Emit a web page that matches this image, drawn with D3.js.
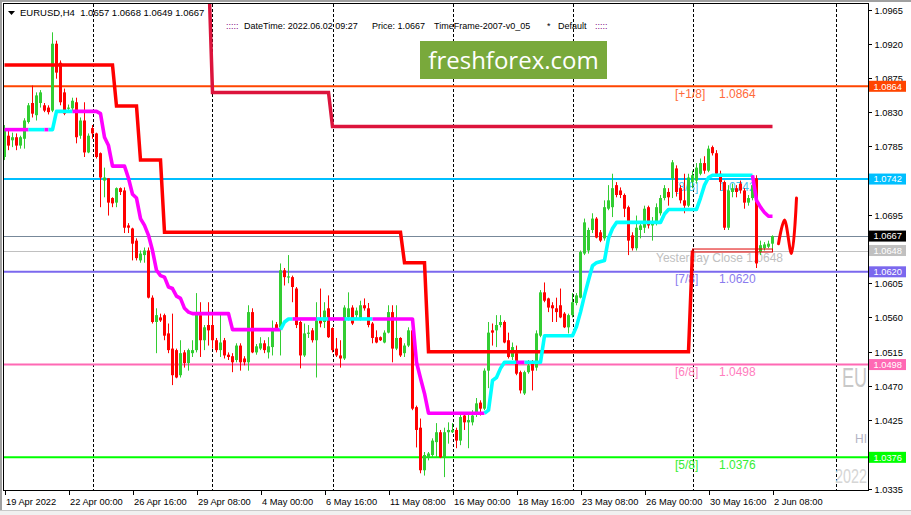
<!DOCTYPE html>
<html><head><meta charset="utf-8">
<script src="https://cdn.jsdelivr.net/npm/d3@7/dist/d3.min.js"></script>
<style>
body{margin:0;background:#fff;overflow:hidden}
text{font-family:"Liberation Sans",Arial,sans-serif;white-space:pre}
</style>
</head><body>
<svg id="c" width="911" height="515"></svg>
<script>
// ---------------- DATA ----------------
const symbol = "EURUSD,H4";
const lastOHLC = [1.0657, 1.0668, 1.0649, 1.0667];
const openP = [1.0771,1.0799,1.0793,1.0797,1.0786,1.0795,1.0817,1.0842,1.0826,1.0842,
 1.0839,1.0836,1.0832,1.0920,1.0895,1.0856,1.0835,1.0835,1.0843,1.0799,
 1.0819,1.0777,1.0809,1.0802,1.0776,1.0740,1.0743,1.0717,1.0711,1.0730,
 1.0727,1.0681,1.0677,1.0661,1.0635,1.0642,1.0648,1.0586,1.0554,1.0560,
 1.0563,1.0539,1.0519,1.0517,1.0484,1.0514,1.0500,1.0513,1.0517,1.0563,
 1.0530,1.0550,1.0550,1.0530,1.0517,1.0530,1.0511,1.0509,1.0504,1.0523,
 1.0506,1.0501,1.0567,1.0514,1.0519,1.0526,1.0514,1.0521,1.0551,1.0547,
 1.0622,1.0613,1.0613,1.0598,1.0554,1.0510,1.0539,1.0543,1.0530,1.0556,
 1.0554,1.0572,1.0546,1.0519,1.0510,1.0506,1.0560,1.0573,1.0563,1.0559,
 1.0576,1.0572,1.0552,1.0534,1.0534,1.0527,1.0540,1.0567,1.0519,1.0533,
 1.0513,1.0523,1.0543,1.0442,1.0415,1.0359,1.0376,1.0379,1.0396,1.0409,
 1.0376,1.0409,1.0409,1.0412,1.0398,1.0431,1.0422,1.0422,1.0434,1.0448,
 1.0440,1.0490,1.0543,1.0543,1.0550,1.0554,1.0530,1.0508,1.0513,1.0488,
 1.0460,1.0488,1.0501,1.0494,1.0536,1.0593,1.0585,1.0576,1.0572,1.0576,
 1.0565,1.0547,1.0563,1.0579,1.0586,1.0644,1.0648,1.0675,1.0690,1.0672,
 1.0664,1.0703,1.0705,1.0734,1.0727,1.0721,1.0705,1.0668,1.0651,1.0675,
 1.0678,1.0705,1.0681,1.0684,1.0697,1.0717,1.0725,1.0743,1.0756,1.0730,
 1.0714,1.0707,1.0738,1.0740,1.0749,1.0763,1.0753,1.0784,1.0776,1.0749,
 1.0738,1.0678,1.0725,1.0730,1.0736,1.0727,1.0711,1.0717,1.0743,1.0646,
 1.0651,1.0653,1.0657];
const highP = [1.0813,1.0806,1.0803,1.0802,1.0799,1.0822,1.0842,1.0865,1.0856,1.0859,
 1.0842,1.0839,1.0935,1.0924,1.0898,1.0861,1.0840,1.0849,1.0849,1.0823,
 1.0843,1.0802,1.0813,1.0803,1.0777,1.0757,1.0743,1.0718,1.0731,1.0731,
 1.0731,1.0684,1.0678,1.0664,1.0648,1.0652,1.0652,1.0589,1.0572,1.0565,
 1.0565,1.0552,1.0565,1.0519,1.0530,1.0517,1.0519,1.0530,1.0592,1.0580,
 1.0550,1.0580,1.0565,1.0533,1.0567,1.0533,1.0514,1.0513,1.0526,1.0526,
 1.0509,1.0576,1.0572,1.0525,1.0534,1.0530,1.0534,1.0556,1.0554,1.0631,
 1.0625,1.0642,1.0615,1.0600,1.0556,1.0552,1.0550,1.0546,1.0580,1.0598,
 1.0580,1.0589,1.0547,1.0533,1.0530,1.0576,1.0593,1.0576,1.0573,1.0582,
 1.0585,1.0579,1.0554,1.0543,1.0535,1.0543,1.0576,1.0576,1.0576,1.0534,
 1.0526,1.0547,1.0550,1.0444,1.0427,1.0383,1.0383,1.0401,1.0421,1.0412,
 1.0415,1.0422,1.0421,1.0415,1.0434,1.0434,1.0434,1.0438,1.0454,1.0451,
 1.0493,1.0554,1.0552,1.0563,1.0563,1.0556,1.0540,1.0527,1.0523,1.0490,
 1.0490,1.0504,1.0504,1.0543,1.0596,1.0606,1.0586,1.0580,1.0586,1.0598,
 1.0567,1.0565,1.0592,1.0592,1.0648,1.0690,1.0678,1.0697,1.0692,1.0675,
 1.0714,1.0734,1.0749,1.0738,1.0731,1.0723,1.0707,1.0672,1.0694,1.0685,
 1.0707,1.0707,1.0692,1.0710,1.0721,1.0734,1.0730,1.0767,1.0760,1.0734,
 1.0749,1.0749,1.0753,1.0763,1.0769,1.0772,1.0786,1.0786,1.0780,1.0753,
 1.0740,1.0734,1.0736,1.0734,1.0740,1.0730,1.0721,1.0747,1.0747,1.0661,
 1.0659,1.0661,1.0668];
const lowP = [1.0767,1.0780,1.0784,1.0780,1.0782,1.0782,1.0815,1.0823,1.0819,1.0836,
 1.0830,1.0827,1.0830,1.0874,1.0839,1.0826,1.0830,1.0832,1.0789,1.0795,
 1.0771,1.0776,1.0795,1.0769,1.0705,1.0718,1.0694,1.0705,1.0705,1.0721,
 1.0671,1.0671,1.0635,1.0635,1.0632,1.0632,1.0585,1.0552,1.0513,1.0554,
 1.0530,1.0513,1.0471,1.0480,1.0481,1.0494,1.0490,1.0508,1.0514,1.0508,
 1.0517,1.0523,1.0519,1.0514,1.0508,1.0506,1.0504,1.0488,1.0501,1.0490,
 1.0497,1.0490,1.0513,1.0511,1.0517,1.0513,1.0506,1.0510,1.0543,1.0510,
 1.0602,1.0605,1.0580,1.0546,1.0493,1.0508,1.0533,1.0527,1.0481,1.0547,
 1.0546,1.0533,1.0514,1.0508,1.0494,1.0504,1.0556,1.0550,1.0559,1.0556,
 1.0569,1.0547,1.0526,1.0526,1.0529,1.0526,1.0539,1.0501,1.0517,1.0508,
 1.0508,1.0521,1.0438,1.0389,1.0355,1.0352,1.0372,1.0376,1.0376,1.0375,
 1.0350,1.0394,1.0408,1.0388,1.0392,1.0412,1.0388,1.0418,1.0429,1.0431,
 1.0438,1.0467,1.0523,1.0521,1.0547,1.0526,1.0506,1.0504,1.0484,1.0460,
 1.0458,1.0486,1.0464,1.0490,1.0534,1.0580,1.0567,1.0554,1.0554,1.0559,
 1.0546,1.0539,1.0560,1.0576,1.0585,1.0642,1.0644,1.0671,1.0664,1.0659,
 1.0661,1.0701,1.0692,1.0718,1.0717,1.0692,1.0642,1.0648,1.0648,1.0664,
 1.0671,1.0677,1.0661,1.0681,1.0694,1.0714,1.0707,1.0717,1.0719,1.0710,
 1.0697,1.0705,1.0730,1.0736,1.0747,1.0749,1.0751,1.0773,1.0747,1.0727,
 1.0675,1.0675,1.0718,1.0718,1.0723,1.0703,1.0707,1.0714,1.0625,1.0642,
 1.0648,1.0651,1.0649];
const closeP = [1.0809,1.0786,1.0797,1.0786,1.0797,1.0819,1.0839,1.0828,1.0852,1.0856,
 1.0832,1.0830,1.0920,1.0882,1.0843,1.0828,1.0836,1.0845,1.0797,1.0819,
 1.0777,1.0799,1.0802,1.0771,1.0744,1.0744,1.0711,1.0710,1.0730,1.0725,
 1.0678,1.0678,1.0657,1.0638,1.0644,1.0648,1.0586,1.0554,1.0563,1.0556,
 1.0536,1.0517,1.0484,1.0481,1.0513,1.0500,1.0517,1.0517,1.0567,1.0530,
 1.0547,1.0543,1.0530,1.0517,1.0527,1.0510,1.0508,1.0501,1.0523,1.0501,
 1.0501,1.0567,1.0514,1.0522,1.0526,1.0517,1.0522,1.0546,1.0546,1.0622,
 1.0613,1.0614,1.0600,1.0550,1.0510,1.0539,1.0540,1.0530,1.0556,1.0552,
 1.0569,1.0534,1.0517,1.0510,1.0506,1.0573,1.0572,1.0552,1.0569,1.0576,
 1.0572,1.0550,1.0533,1.0527,1.0530,1.0540,1.0567,1.0519,1.0533,1.0510,
 1.0523,1.0543,1.0440,1.0412,1.0359,1.0379,1.0381,1.0398,1.0409,1.0376,
 1.0409,1.0412,1.0412,1.0398,1.0429,1.0422,1.0425,1.0431,1.0447,1.0440,
 1.0490,1.0540,1.0540,1.0550,1.0554,1.0527,1.0508,1.0521,1.0486,1.0464,
 1.0488,1.0497,1.0490,1.0539,1.0593,1.0582,1.0573,1.0572,1.0567,1.0560,
 1.0547,1.0563,1.0580,1.0589,1.0646,1.0685,1.0675,1.0690,1.0665,1.0661,
 1.0705,1.0714,1.0730,1.0721,1.0721,1.0703,1.0661,1.0651,1.0678,1.0681,
 1.0703,1.0681,1.0685,1.0705,1.0717,1.0730,1.0718,1.0764,1.0725,1.0714,
 1.0707,1.0744,1.0747,1.0757,1.0763,1.0753,1.0782,1.0776,1.0749,1.0738,
 1.0678,1.0727,1.0730,1.0725,1.0727,1.0711,1.0717,1.0734,1.0631,1.0655,
 1.0656,1.0657,1.0667];

const timeLabels = ["19 Apr 2022","22 Apr 00:00","26 Apr 16:00","29 Apr 08:00","4 May 00:00","6 May 16:00","11 May 08:00","16 May 00:00","18 May 16:00","23 May 08:00","26 May 00:00","30 May 16:00","2 Jun 08:00"];
const timeLabelBars = [0,16,32,48,64,80,96,112,128,144,160,176,192];
const gridBars = [22,52,82,112,142,172,208];
// visible price-scale labels (1.0740, 1.0650, 1.0380 lie under the value boxes)
const priceTicks = [1.0965,1.0920,1.0875,1.0830,1.0785,1.0695,1.0605,1.0560,1.0515,1.0470,1.0425,1.0335];

const levelValues = [1.0864,1.0742,1.0620,1.0498,1.0376];
const levelNames  = ["[+1/8]","[8/8]","[7/8]","[6/8]","[5/8]"];
const levelColors = ["#FF4500","#00BFFF","#7B68EE","#FF69B4","#00FF00"];
const levelTextColors = ["#FF6A3A","#3FC4F0","#8A7BEE","#FF7EBE","#33EE33"];
const lastPrice = 1.0667;
const yesterdayClose = 1.0648;

// thick red step (support level) : start bar + value
const redStepBars = [0,28,34,40,100,106,172];
const redStepVals = [1.0892,1.0838,1.0767,1.0672,1.0632,1.0515,1.0648];
// crimson step
const crimsonBars = [51,52,82];
const crimsonVals = [1.1020,1.0856,1.0811];

// trend line vertices (bar, value, colour of following segment: 1 up/cyan, 0 down/magenta)
const trendBars = [0,6,10,11,12,13,17,23,24,25,26,27,30,31,32,33,34,35,36,37,38,39,40,41,42,43,44,45,46,47,56,57,69,70,71,72,78,81,85,92,102,103,104,105,106,120,121,122,123,124,125,128,130,134,135,142,143,144,145,146,147,148,150,151,152,153,164,165,166,173,174,175,176,177,187,188,189,190,191,192];
const trendVals = [1.0807,1.0807,1.0807,1.0807,1.0807,1.0831,1.0831,1.0831,1.0828,1.0797,1.0786,1.0759,1.0759,1.0743,1.0722,1.0717,1.0690,1.0681,1.0668,1.0648,1.0622,1.0615,1.0613,1.0600,1.0598,1.0588,1.0585,1.0572,1.0567,1.0565,1.0565,1.0544,1.0544,1.0554,1.0558,1.0558,1.0558,1.0558,1.0558,1.0558,1.0558,1.0501,1.0480,1.0460,1.0434,1.0434,1.0438,1.0477,1.0481,1.0493,1.0501,1.0501,1.0501,1.0501,1.0536,1.0536,1.0548,1.0567,1.0589,1.0609,1.0628,1.0632,1.0635,1.0664,1.0677,1.0685,1.0685,1.0696,1.0702,1.0702,1.0717,1.0734,1.0744,1.0747,1.0747,1.0714,1.0705,1.0698,1.0693,1.0693];
const trendUp = [0,1,0,1,1,1,0,0,0,0,0,0,0,0,0,0,0,0,0,0,0,0,0,0,0,0,0,0,0,0,0,0,1,1,1,0,1,0,1,0,0,0,0,0,0,1,1,1,1,1,1,0,1,1,1,1,1,1,1,1,1,1,1,1,1,1,1,1,1,1,1,1,1,1,0,0,0,0,0,0];

// forecast wave
const waveBars = [193.5,195,196.75,198];
const waveVals = [1.0657,1.0688,1.0644,1.0717];

// ---------------- DRAW ----------------
const W = 911, H = 515;
const svg = d3.select("#c");
const xS = d3.scaleLinear().domain([0,192]).range([4.5,772.5]);
const yS = d3.scaleLinear().domain([1.0335,1.0965]).range([488.5,9.5]);
const L = 4, T = 4, R = 868, B = 490;
const fmt = d3.format(".4f");

svg.append("rect").attr("width",W).attr("height",H).attr("fill","#fff");
// outer window border
svg.append("rect").attr("x",0).attr("y",0).attr("width",2).attr("height",H).attr("fill","#a0a0a0");
svg.append("rect").attr("x",0).attr("y",0).attr("width",W).attr("height",2).attr("fill","#a0a0a0");
svg.append("rect").attr("x",0).attr("y",510).attr("width",W).attr("height",5).attr("fill","#f0f0f0");
svg.append("line").attr("x1",0).attr("x2",W).attr("y1",510.5).attr("y2",510.5).attr("stroke","#c8c8c8");

const defs = svg.append("defs");
defs.append("clipPath").attr("id","plot").append("rect").attr("x",L).attr("y",T).attr("width",R-L).attr("height",B-T);
const g = svg.append("g").attr("clip-path","url(#plot)");

// vertical dashed grid
g.selectAll(".grid").data(gridBars).join("line")
  .attr("x1",d=>Math.round(xS(d))+0.5).attr("x2",d=>Math.round(xS(d))+0.5)
  .attr("y1",T).attr("y2",B).attr("stroke","#000").attr("stroke-width",1).attr("stroke-dasharray","3,2");

// logo
g.append("rect").attr("x",420).attr("y",41).attr("width",187).attr("height",38).attr("fill","#79a93b");
g.append("text").attr("x",513.5).attr("y",69).attr("text-anchor","middle")
  .style("font-family","'Open Sans',sans-serif").attr("font-size",24).attr("fill","#fff").text("freshforex.com");

// watermark texts bottom right (cut by the price scale in the original)
g.append("text").attr("x",842).attr("y",387).attr("font-size",27).attr("fill","#c8c8c8")
  .attr("textLength",25).attr("lengthAdjust","spacingAndGlyphs").text("EU");
g.append("text").attr("x",855).attr("y",443).attr("font-size",13).attr("fill","#b4b4c4")
  .attr("textLength",12).attr("lengthAdjust","spacingAndGlyphs").text("HI");
g.append("text").attr("x",835).attr("y",483).attr("font-size",20).attr("fill","#d6d6d6")
  .attr("textLength",32).attr("lengthAdjust","spacingAndGlyphs").text("2022");

// level lines
levelValues.forEach((v,k)=>{
  const y = yS(v);
  g.append("line").attr("x1",L).attr("x2",R).attr("y1",y).attr("y2",y).attr("stroke",levelColors[k]).attr("stroke-width",2);
});
g.append("line").attr("x1",L).attr("x2",R).attr("y1",Math.round(yS(lastPrice))+0.5).attr("y2",Math.round(yS(lastPrice))+0.5).attr("stroke","#778899");
g.append("line").attr("x1",L).attr("x2",R).attr("y1",Math.round(yS(yesterdayClose))+0.5).attr("y2",Math.round(yS(yesterdayClose))+0.5).attr("stroke","#c0c0c0");

// level texts
levelValues.forEach((v,k)=>{
  const y = yS(v)+11.5;
  g.append("text").attr("x",675).attr("y",y).attr("font-size",12).attr("fill",levelTextColors[k]).text(levelNames[k]);
  g.append("text").attr("x",719).attr("y",y).attr("font-size",12).attr("fill",levelTextColors[k]).text(fmt(v));
});
g.append("text").attr("x",656).attr("y",yS(yesterdayClose)+11.5).attr("font-size",12).attr("fill","#c0c0c0").text("Yesterday Close "+fmt(yesterdayClose));

// candles
const idx = d3.range(openP.length);
const cg = g.append("g");
idx.forEach(i=>{
  const o=openP[i], c=closeP[i], h=highP[i], l=lowP[i];
  const up = c >= o;
  const col = up ? "#32CD32" : "#FF0000";
  const cx = xS(i);
  cg.append("rect").attr("x",cx-0.5).attr("width",1)
    .attr("y",yS(Math.max(h,o,c))).attr("height",Math.max(1,yS(Math.min(l,o,c))-yS(Math.max(h,o,c)))).attr("fill",col);
  const yt = yS(Math.max(o,c)), yb = yS(Math.min(o,c));
  cg.append("rect").attr("x",cx-1.5).attr("width",3).attr("y",yt).attr("height",Math.max(1.2,yb-yt)).attr("fill",col);
});

// step lines
function stepPts(bars, vals, endBar){
  const pts=[];
  bars.forEach((b,k)=>{
    pts.push([b, vals[k]]);
    const nb = k<bars.length-1 ? bars[k+1]-1 : endBar;
    if (nb > b) pts.push([nb, vals[k]]);
  });
  return pts;
}
const line = d3.line().x(d=>xS(d[0])).y(d=>yS(d[1]));
g.append("path").attr("d",line(stepPts(crimsonBars,crimsonVals,192))).attr("fill","none")
  .attr("stroke","#DC143C").attr("stroke-width",3.5);
g.append("path").attr("d",line(stepPts(redStepBars,redStepVals,172))).attr("fill","none")
  .attr("stroke","#FF0000").attr("stroke-width",3.5);
// yesterday close thin box
g.append("rect").attr("x",xS(172)).attr("y",yS(yesterdayClose)-1.5).attr("width",xS(192)-xS(172)).attr("height",3)
  .attr("fill","none").attr("stroke","#e00000").attr("stroke-width",1);

// trend line (cyan / magenta)
let segs=[], cur=null;
for(let k=0;k<trendBars.length-1;k++){
  const col = trendUp[k];
  if(!cur || cur.col!==col){ cur={col, pts:[[trendBars[k],trendVals[k]]]}; segs.push(cur); }
  cur.pts.push([trendBars[k+1],trendVals[k+1]]);
}
segs.forEach(s=>{
  g.append("path").attr("d",line(s.pts)).attr("fill","none")
   .attr("stroke", s.col ? "#00FFFF" : "#FF00FF").attr("stroke-width",3.6).attr("stroke-linejoin","round");
});

// wave forecast
const wave = d3.line().x((d,i)=>xS(waveBars[i])).y(d=>yS(d)).curve(d3.curveCatmullRom.alpha(0.5));
g.append("path").attr("d",wave(waveVals)).attr("fill","none").attr("stroke","#FF0000").attr("stroke-width",3).attr("stroke-linecap","round");

// frame
svg.append("rect").attr("x",L-0.5).attr("y",T-0.5).attr("width",R-L+1).attr("height",B-T+1)
  .attr("fill","none").attr("stroke","#000");

// price axis
priceTicks.forEach(p=>{
  const y = Math.round(yS(p))+0.5;
  svg.append("line").attr("x1",R).attr("x2",R+4).attr("y1",y).attr("y2",y).attr("stroke","#000");
  svg.append("text").attr("x",874.5).attr("y",y).attr("dy","0.35em").attr("font-size",9.3).attr("fill","#000").text(fmt(p));
});
// axis value boxes
const boxVals = levelValues.concat([lastPrice, yesterdayClose]);
const boxCols = levelColors.concat(["#000000","#C0C0C0"]);
boxVals.forEach((v,k)=>{
  const y = yS(v);
  svg.append("rect").attr("x",R+1).attr("y",y-5.5).attr("width",37).attr("height",11).attr("fill",boxCols[k]);
  svg.append("text").attr("x",873.5).attr("y",y).attr("dy","0.36em").attr("font-size",9.3).attr("fill","#fff").text(fmt(v));
});

// time axis
timeLabelBars.forEach((b,k)=>{
  const x = Math.round(xS(b))+0.5;
  svg.append("line").attr("x1",x).attr("x2",x).attr("y1",B).attr("y2",B+5).attr("stroke","#000");
  svg.append("text").attr("x",x+0.5).attr("y",505).attr("font-size",9.3).attr("fill","#000").text(timeLabels[k]);
});

// header
svg.append("path").attr("d","M8,11 L15,11 L11.5,15 Z").attr("fill","#000");
svg.append("text").attr("x",20).attr("y",16).attr("font-size",9.5).attr("fill","#000")
  .text(symbol+"  "+lastOHLC.map(fmt).join(" "));

// info line
const infoY = 28.5;
svg.append("text").attr("x",226).attr("y",infoY).attr("font-size",9).attr("fill","#800080").text(":::::");
svg.append("text").attr("x",244).attr("y",infoY).attr("font-size",9).attr("fill","#000").text("DateTime: 2022.06.02 09:27");
svg.append("text").attr("x",372).attr("y",infoY).attr("font-size",9).attr("fill","#000").text("Price: "+fmt(lastPrice));
svg.append("text").attr("x",434).attr("y",infoY).attr("font-size",9).attr("fill","#000").text("TimeFrame-2007-v0_05");
svg.append("text").attr("x",547).attr("y",infoY).attr("font-size",9).attr("fill","#000").text("*");
svg.append("text").attr("x",558).attr("y",infoY).attr("font-size",9).attr("fill","#000").text("Default");
svg.append("text").attr("x",595).attr("y",infoY).attr("font-size",9).attr("fill","#800080").text(":::::");
</script>
</body></html>
